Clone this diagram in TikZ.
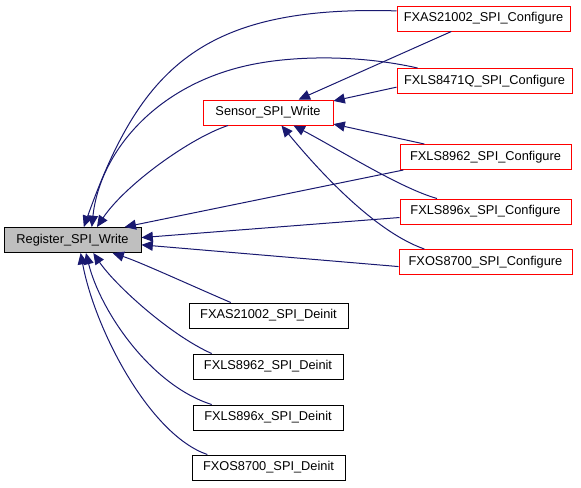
\documentclass[tikz,border=0pt]{standalone}
\usepackage{fontspec}
\setmainfont{Liberation Sans}
\usetikzlibrary{arrows.meta}

\definecolor{blunotte}{HTML}{191970}
\definecolor{grigio}{HTML}{BFBFBF}

\tikzset{
    box/.style={draw=red, fill=white, line width=0.75pt, inner xsep=2pt,
        minimum height=18.75pt, font=\fontsize{9.6}{11}\selectfont},
    boxnero/.style={box, draw=black},
    boxgrigio/.style={box, draw=black, fill=grigio},
    freccia/.style={draw=blunotte, line width=0.75pt,
        -{Triangle[length=8.5pt,width=7.5pt]}}
}

\begin{document}
\begin{tikzpicture}[x=0.75pt,y=-0.75pt]
    % Area del disegno
    \useasboundingbox (0,0) rectangle (581,487);

    % Funzione chiamata
    \node[boxgrigio, minimum width=102.75pt] (reg) at (72.5,240) {Register\_SPI\_Write};
    \node[box, minimum width=97.5pt] (sensor) at (268,112.5) {Sensor\_SPI\_Write};

    % Funzioni di configurazione
    \node[box, minimum width=129.75pt] (fxasconf) at (483.5,18.5) {FXAS21002\_SPI\_Configure};
    \node[box, minimum width=131.25pt] (fxls8471conf) at (484.5,81) {FXLS8471Q\_SPI\_Configure};
    \node[box, minimum width=128.25pt] (fxls8962conf) at (485.5,157) {FXLS8962\_SPI\_Configure};
    \node[box, minimum width=128.25pt] (fxls896xconf) at (485.5,211.5) {FXLS896x\_SPI\_Configure};
    \node[box, minimum width=129.75pt] (fxosconf) at (485.5,262) {FXOS8700\_SPI\_Configure};

    % Funzioni di deinit
    \node[boxnero, minimum width=119.25pt] (fxasdeinit) at (268.5,315.5) {FXAS21002\_SPI\_Deinit};
    \node[boxnero, minimum width=112.5pt] (fxls8962deinit) at (268,366.5) {FXLS8962\_SPI\_Deinit};
    \node[boxnero, minimum width=112.5pt] (fxls896xdeinit) at (268,417.5) {FXLS896x\_SPI\_Deinit};
    \node[boxnero, minimum width=114.75pt] (fxosdeinit) at (268.5,467.5) {FXOS8700\_SPI\_Deinit};

    % Archi verso Register_SPI_Write
    \draw[freccia] (fxasconf.175) .. controls (200,5) and (140,70) .. (reg.49);
    \draw[freccia] (fxls8471conf.169) .. controls (360,55) and (300,56) .. (260,63)
        .. controls (160,80) and (100,150) .. (reg.34);
    \draw[freccia] (sensor.198) .. controls (190,138) and (125,185) .. (reg.28);
    \draw[freccia] (fxls8962conf.189) -- (reg.14);
    \draw[freccia] (fxls896xconf.184) -- (reg.2.5);
    \draw[freccia] (fxosconf.183) -- (reg.-4);
    \draw[freccia] (fxasdeinit.161) .. controls (190,285) and (140,262) .. (reg.-18);
    \draw[freccia] (fxls8962deinit.167) .. controls (170,335) and (115,285) .. (reg.-32);
    \draw[freccia] (fxls896xdeinit.167) .. controls (150,385) and (100,310) .. (reg.-44);
    \draw[freccia] (fxosdeinit.168) .. controls (150,435) and (95,330) .. (reg.-58);

    % Archi verso Sensor_SPI_Write
    \draw[freccia] (fxasconf.202) -- (sensor.23);
    \draw[freccia] (fxls8471conf.184) -- (sensor.10);
    \draw[freccia] (fxls8962conf.168) -- (sensor.-10);
    \draw[freccia] (fxls896xconf.165) .. controls (400,188) and (340,150) .. (sensor.-27);
    \draw[freccia] (fxosconf.168) .. controls (370,230) and (310,160) .. (sensor.-44);
\end{tikzpicture}
\end{document}
